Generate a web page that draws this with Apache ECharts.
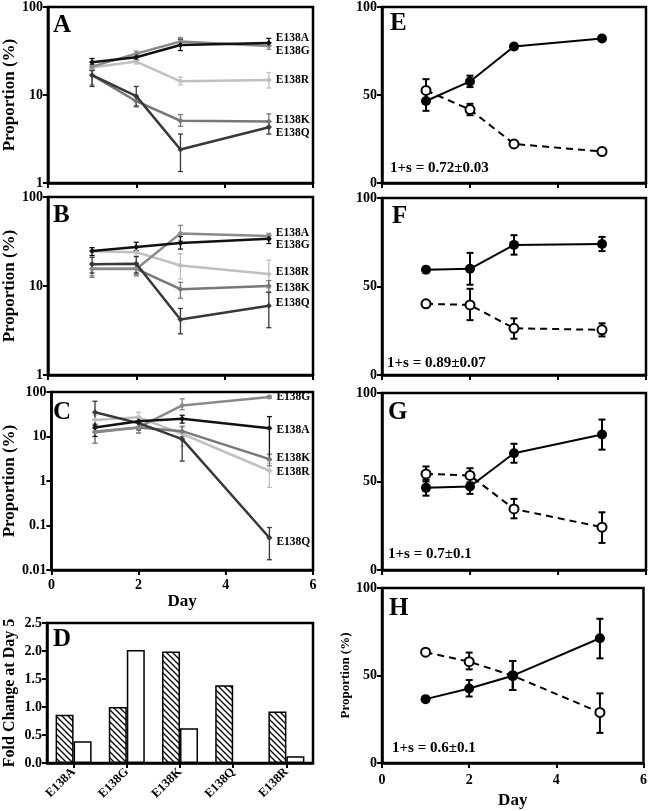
<!DOCTYPE html>
<html><head><meta charset="utf-8">
<script src="https://cdn.jsdelivr.net/npm/echarts@6/dist/echarts.min.js"></script>
<style>html,body{margin:0;padding:0;background:#fff}#c{width:650px;height:811px}</style>
</head><body><div id="c"></div>
<script>
// ---------- DATA ----------
const days = [1, 2, 3, 5];
const mutants = ['E138R', 'E138K', 'E138G', 'E138Q', 'E138A'];

// Panel A
const A_E138A = [23.6, 26.8, 37, 39];     const A_E138A_lo = [22, 25, 32, 36];     const A_E138A_hi = [26, 29, 43, 44];
const A_E138G = [21, 29.5, 40.5, 36];     const A_E138G_lo = [19.5, 27.5, 37, 33]; const A_E138G_hi = [24, 31.5, 45, 39];
const A_E138R = [20.5, 24, 14.3, 14.8];   const A_E138R_lo = [19, 22.5, 13, 12];   const A_E138R_hi = [26, 27, 16, 18];
const A_E138K = [16.8, 8.5, 5.1, 5.0];    const A_E138K_lo = [13, 7.3, 4.4, 4.4];  const A_E138K_hi = [19, 9.6, 6, 6.1];
const A_E138Q = [16.8, 9.7, 2.4, 4.3];    const A_E138Q_lo = [12.5, 7.5, 1.35, 3.6]; const A_E138Q_hi = [19, 12.5, 3.6, 5];

// Panel B
const B_E138A = [24.7, 27.5, 30.5, 34];   const B_E138A_lo = [22, 25, 26, 30];     const B_E138A_hi = [27, 31, 36, 37];
const B_E138G = [15.5, 15.5, 39, 36.5];   const B_E138G_lo = [13, 13.5, 32, 33];   const B_E138G_hi = [18, 18, 48, 39];
const B_E138R = [24.5, 24, 17, 13.6];     const B_E138R_lo = [22, 21, 12, 9.5];    const B_E138R_hi = [27, 27, 23, 19.5];
const B_E138K = [15.6, 15.6, 9.2, 10];    const B_E138K_lo = [12.5, 13, 7.3, 8.5]; const B_E138K_hi = [18, 17.5, 11, 11.5];
const B_E138Q = [17.5, 17.8, 4.2, 6];     const B_E138Q_lo = [14, 14, 2.9, 3.4];   const B_E138Q_hi = [21, 21.5, 5.6, 8.5];

// Panel C
const C_E138A = [16, 22, 25, 15.4];       const C_E138A_lo = [10, 16, 20, 3];      const C_E138A_hi = [24, 27, 30, 28];
const C_E138G = [13, 16, 50, 77];         const C_E138G_lo = [7, 12, 40, 72];      const C_E138G_hi = [18, 20, 70, 82];
const C_E138R = [23.5, 27, 11.5, 1.7];    const C_E138R_lo = [15, 21, 6, 0.72];    const C_E138R_hi = [30, 35, 16, 2.5];
const C_E138K = [12.5, 16, 13.2, 3.1];    const C_E138K_lo = [7, 12, 10, 2.2];     const C_E138K_hi = [19, 20, 17, 4];
const C_E138Q = [35, 20, 8.7, 0.053];     const C_E138Q_lo = [18, 14, 2.8, 0.017]; const C_E138Q_hi = [62, 26, 12, 0.09];

// Panel D
const D_cats = ['E138A', 'E138G', 'E138K', 'E138Q', 'E138R'];
const D_hatched = [0.86, 1.0, 1.99, 1.39, 0.92];
const D_open = [0.39, 2.02, 0.62, 0.01, 0.12];

// Panels E-H (filled = solid line, open = dashed line)
const E_filled = [46.6, 57.7, 77.6, 82.1]; const E_filled_lo = [41, 54.5, 76, 81];   const E_filled_hi = [53, 61, 79, 83.5];
const E_open = [52.6, 41.7, 22.2, 17.9];   const E_open_lo = [47, 38.5, 21, 17];     const E_open_hi = [59, 45, 23.5, 19];
const F_filled = [59.5, 60, 73.5, 74];     const F_filled_lo = [58, 51, 68, 70];     const F_filled_hi = [61, 69, 79, 78];
const F_open = [40.2, 39.6, 26.4, 25.5];   const F_open_lo = [39, 31, 20.5, 21.8];   const F_open_hi = [41.5, 48.7, 32, 29.2];
const G_filled = [46.4, 47.2, 66, 76.6];   const G_filled_lo = [42, 43, 60.6, 68];   const G_filled_hi = [51, 51.5, 71.3, 85];
const G_open = [54.3, 53.4, 34.5, 24.2];   const G_open_lo = [50, 49.5, 29.2, 15.3]; const G_open_hi = [58.5, 57.5, 40.2, 32.6];
const H_filled = [36.5, 42.6, 49.9, 71.3]; const H_filled_lo = [35.5, 38, 41.7, 59.8]; const H_filled_hi = [37.5, 47.4, 58.3, 82.4];
const H_open = [63.3, 57.9, 49.9, 28.9];   const H_open_lo = [62.3, 53.5, 41.7, 17.2]; const H_open_hi = [64.3, 63.1, 58.3, 39.8];

const fitnessText = ['1+s = 0.72\u00b10.03', '1+s = 0.89\u00b10.07', '1+s = 0.7\u00b10.1', '1+s = 0.6\u00b10.1'];
const panelLetters = ['A', 'B', 'C', 'D', 'E', 'F', 'G', 'H'];

// ---------- STYLE ----------
const FONT = 'Liberation Serif';
const colors = {E138A: '#111111', E138G: '#8a8a8a', E138R: '#c0c0c0', E138K: '#787878', E138Q: '#383838'};
const labelOffsets = [
  {E138A: -5, E138G: 5, E138R: 0, E138K: -1, E138Q: 6},
  {E138A: -6, E138G: 9, E138R: -2, E138K: 2, E138Q: -3},
  {E138A: 2, E138G: 0, E138R: 1, E138K: -1, E138Q: 4}
];
const gridDefs = [
  {left: 47, top: 6, width: 266, height: 177},
  {left: 47, top: 197, width: 266, height: 178},
  {left: 47, top: 392, width: 266, height: 178},
  {left: 47, top: 623, width: 266, height: 140},
  {left: 382, top: 6, width: 264, height: 177},
  {left: 382, top: 198, width: 264, height: 177},
  {left: 382, top: 393, width: 264, height: 177},
  {left: 382, top: 588, width: 264, height: 175}
];
const lblStyle = {color: '#000', fontFamily: FONT, fontWeight: 'bold', fontSize: 14};
const axLine = {show: true, onZero: false, lineStyle: {color: '#000', width: 2.5}};
const axTick = {show: true, inside: false, length: 5, lineStyle: {color: '#000', width: 2}};

function fmtNum(v) { return String(Number(Number(v).toPrecision(4))); }

function dayAxis(gi, labels, margin, nameGap) {
  return {
    type: 'value', gridIndex: gi, min: 0, max: 6, interval: 2,
    axisLine: axLine, axisTick: axTick, splitLine: {show: false},
    axisLabel: Object.assign({show: labels, margin: margin || 8}, lblStyle),
    name: labels ? 'Day' : '', nameLocation: 'middle', nameGap: nameGap || 22,
    nameTextStyle: {color: '#000', fontFamily: FONT, fontWeight: 'bold', fontSize: 17}
  };
}
function logAxis(gi, min) {
  return {
    type: 'log', logBase: 10, gridIndex: gi, min: min, max: 100,
    axisLine: axLine, axisTick: axTick, splitLine: {show: false}, minorTick: {show: false},
    axisLabel: Object.assign({margin: 5, formatter: fmtNum}, lblStyle),
    name: 'Proportion (%)', nameLocation: 'middle', nameRotate: 90, nameGap: 27,
    nameTextStyle: {color: '#000', fontFamily: FONT, fontWeight: 'bold', fontSize: 17}
  };
}
function linAxis(gi, withName) {
  return {
    type: 'value', gridIndex: gi, min: 0, max: 100, interval: 50,
    axisLine: axLine, axisTick: axTick, splitLine: {show: false},
    axisLabel: Object.assign({margin: 5}, lblStyle),
    name: withName ? 'Proportion (%)' : '', nameLocation: 'middle', nameRotate: 90, nameGap: 30,
    nameTextStyle: {color: '#000', fontFamily: FONT, fontWeight: 'bold', fontSize: 13}
  };
}

function errSeries(gi, lo, hi, color, cap, width) {
  return {
    type: 'custom', xAxisIndex: gi, yAxisIndex: gi, silent: true, z: 1,
    data: days.map((d, i) => [d, lo[i], hi[i]]),
    encode: {x: 0, y: [1, 2]},
    renderItem: function (p, api) {
      const a = api.coord([api.value(0), api.value(1)]);
      const b = api.coord([api.value(0), api.value(2)]);
      const st = {stroke: color, lineWidth: width};
      return {type: 'group', children: [
        {type: 'line', shape: {x1: a[0], y1: a[1], x2: b[0], y2: b[1]}, style: st},
        {type: 'line', shape: {x1: a[0] - cap, y1: a[1], x2: a[0] + cap, y2: a[1]}, style: st},
        {type: 'line', shape: {x1: b[0] - cap, y1: b[1], x2: b[0] + cap, y2: b[1]}, style: st}
      ]};
    }
  };
}

const series = [];
const panelData = [
  {A: {E138A: [A_E138A, A_E138A_lo, A_E138A_hi], E138G: [A_E138G, A_E138G_lo, A_E138G_hi], E138R: [A_E138R, A_E138R_lo, A_E138R_hi], E138K: [A_E138K, A_E138K_lo, A_E138K_hi], E138Q: [A_E138Q, A_E138Q_lo, A_E138Q_hi]}},
  {A: {E138A: [B_E138A, B_E138A_lo, B_E138A_hi], E138G: [B_E138G, B_E138G_lo, B_E138G_hi], E138R: [B_E138R, B_E138R_lo, B_E138R_hi], E138K: [B_E138K, B_E138K_lo, B_E138K_hi], E138Q: [B_E138Q, B_E138Q_lo, B_E138Q_hi]}},
  {A: {E138A: [C_E138A, C_E138A_lo, C_E138A_hi], E138G: [C_E138G, C_E138G_lo, C_E138G_hi], E138R: [C_E138R, C_E138R_lo, C_E138R_hi], E138K: [C_E138K, C_E138K_lo, C_E138K_hi], E138Q: [C_E138Q, C_E138Q_lo, C_E138Q_hi]}}
];
panelData.forEach((pd, gi) => {
  mutants.forEach((m, k) => {
    const [vals, lo, hi] = pd.A[m];
    series.push(errSeries(gi, lo, hi, colors[m], 2.5, 1.3));
    series.push({
      type: 'line', name: m, xAxisIndex: gi, yAxisIndex: gi, z: 2 + k,
      symbol: 'diamond', symbolSize: 6, showSymbol: true,
      lineStyle: {color: colors[m], width: 2.5}, itemStyle: {color: colors[m]},
      data: days.map((d, i) => i === days.length - 1 ? {
        value: [d, vals[i]],
        label: {show: true, position: 'right', distance: 4, offset: [0, labelOffsets[gi][m]],
          formatter: m, color: '#000', fontFamily: FONT, fontWeight: 'bold', fontSize: 11.5}
      } : [d, vals[i]])
    });
  });
});

// hatch pattern for panel D
const hc = document.createElement('canvas');
hc.width = 6; hc.height = 6;
const hctx = hc.getContext('2d');
hctx.fillStyle = '#fff'; hctx.fillRect(0, 0, 6, 6);
hctx.strokeStyle = '#000'; hctx.lineWidth = 1.3;
hctx.beginPath();
hctx.moveTo(-1, -1); hctx.lineTo(7, 7);
hctx.moveTo(5, -1); hctx.lineTo(7, 1);
hctx.moveTo(-1, 5); hctx.lineTo(1, 7);
hctx.stroke();

series.push({type: 'bar', xAxisIndex: 3, yAxisIndex: 3, data: D_hatched, barWidth: 18, barGap: '0%',
  itemStyle: {color: {image: hc, repeat: 'repeat'}, borderColor: '#000', borderWidth: 1.5}});
series.push({type: 'bar', xAxisIndex: 3, yAxisIndex: 3, data: D_open, barWidth: 18, barGap: '0%',
  itemStyle: {color: '#fff', borderColor: '#000', borderWidth: 1.5}});

const pairData = [
  [E_filled, E_filled_lo, E_filled_hi, E_open, E_open_lo, E_open_hi],
  [F_filled, F_filled_lo, F_filled_hi, F_open, F_open_lo, F_open_hi],
  [G_filled, G_filled_lo, G_filled_hi, G_open, G_open_lo, G_open_hi],
  [H_filled, H_filled_lo, H_filled_hi, H_open, H_open_lo, H_open_hi]
];
pairData.forEach((p, k) => {
  const gi = 4 + k;
  series.push(errSeries(gi, p[4], p[5], '#000', 3.5, 2));
  series.push(errSeries(gi, p[1], p[2], '#000', 3.5, 2));
  series.push({type: 'line', xAxisIndex: gi, yAxisIndex: gi, z: 3, symbol: 'circle', symbolSize: 9,
    lineStyle: {color: '#000', width: 2, type: [7, 5]},
    itemStyle: {color: '#fff', borderColor: '#000', borderWidth: 2},
    data: days.map((d, i) => [d, p[3][i]])});
  series.push({type: 'line', xAxisIndex: gi, yAxisIndex: gi, z: 4, symbol: 'circle', symbolSize: 10,
    lineStyle: {color: '#000', width: 2}, itemStyle: {color: '#000'},
    data: days.map((d, i) => [d, p[0][i]])});
});

// ---------- annotations ----------
const letterPos = [[53, 25.5], [53, 216], [53, 413], [53, 640], [390, 24], [392, 217], [388, 413], [389, 609]];
const fitPos = [[390, 168], [387, 363], [388, 554], [392, 748]];
const graphic = [];
panelLetters.forEach((L, i) => graphic.push({type: 'text', x: letterPos[i][0], y: letterPos[i][1], z: 100,
  style: {text: L, fontSize: 25, fontWeight: 'bold', fontFamily: FONT, fill: '#000', verticalAlign: 'middle'}}));
fitnessText.forEach((t, i) => graphic.push({type: 'text', x: fitPos[i][0], y: fitPos[i][1], z: 100,
  style: {text: t, fontSize: 15, fontWeight: 'bold', fontFamily: FONT, fill: '#000', verticalAlign: 'middle'}}));

const option = {
  animation: false,
  backgroundColor: '#fff',
  grid: gridDefs.map(g => Object.assign({show: true, borderColor: '#000', borderWidth: 2.5, containLabel: false}, g)),
  xAxis: [
    dayAxis(0, false), dayAxis(1, false), dayAxis(2, true, 8, 22),
    {type: 'category', gridIndex: 3, data: D_cats, boundaryGap: true,
      axisLine: axLine, axisTick: Object.assign({alignWithLabel: true}, axTick), splitLine: {show: false},
      axisLabel: Object.assign({rotate: 45, interval: 0, margin: 7}, lblStyle, {fontSize: 12.5})},
    dayAxis(4, false), dayAxis(5, false), dayAxis(6, false), dayAxis(7, true, 10, 29)
  ],
  yAxis: [
    logAxis(0, 1), logAxis(1, 1), logAxis(2, 0.01),
    {type: 'value', gridIndex: 3, min: 0, max: 2.5, interval: 0.5,
      axisLine: axLine, axisTick: axTick, splitLine: {show: false},
      axisLabel: Object.assign({margin: 5, formatter: v => v.toFixed(1)}, lblStyle),
      name: 'Fold Change at Day 5', nameLocation: 'middle', nameRotate: 90, nameGap: 29,
      nameTextStyle: {color: '#000', fontFamily: FONT, fontWeight: 'bold', fontSize: 16}},
    linAxis(4, false), linAxis(5, false), linAxis(6, false), linAxis(7, true)
  ],
  series: series,
  graphic: graphic
};
echarts.init(document.getElementById('c'), null, {renderer: 'canvas'}).setOption(option);
</script></body></html>
